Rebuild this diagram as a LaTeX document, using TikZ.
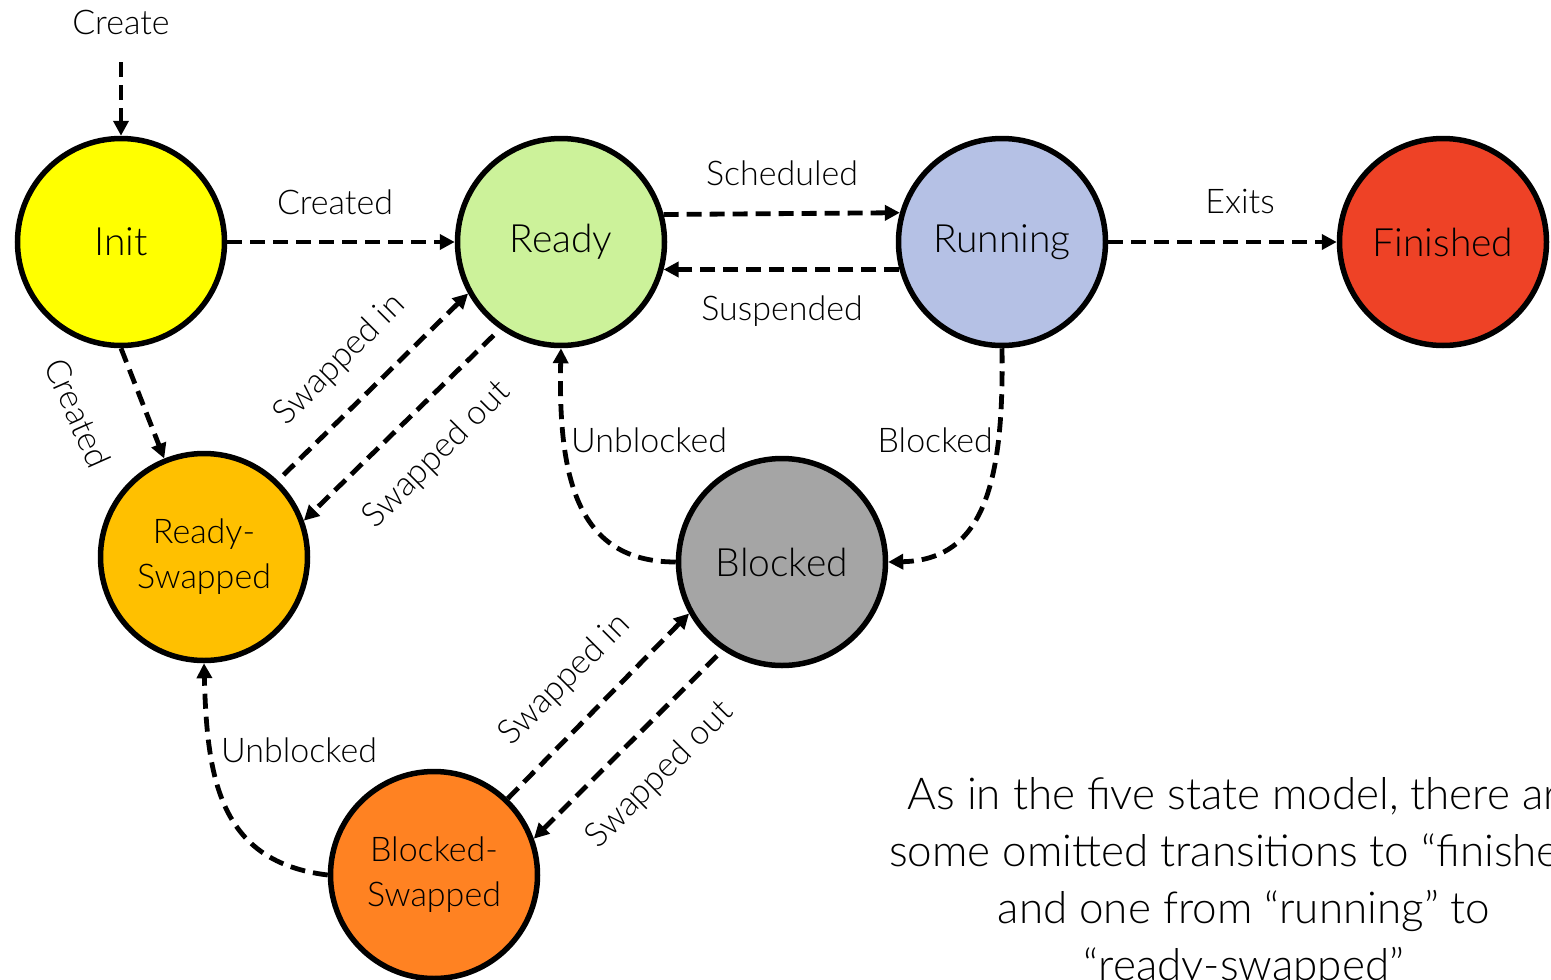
\documentclass[tikz,border=0pt]{standalone}
\usepackage{fontspec}
\setmainfont{Lato}[UprightFont={* Light}]
\usetikzlibrary{arrows.meta,calc}

\definecolor{cinit}{RGB}{255,255,0}
\definecolor{cready}{RGB}{204,242,154}
\definecolor{crun}{RGB}{181,193,229}
\definecolor{cfin}{RGB}{238,66,38}
\definecolor{crs}{RGB}{255,192,0}
\definecolor{cblk}{RGB}{165,165,165}
\definecolor{cbs}{RGB}{255,130,34}

\tikzset{
  state/.style={circle, draw=black, line width=5.5pt, minimum size=207pt,
    inner sep=0pt, align=center, font=\fontsize{39}{44}\selectfont},
  state2/.style={state, font=\fontsize{34}{45}\selectfont},
  trans/.style={-{Triangle[length=15pt,width=15pt]}, line width=4.8pt,
    dash pattern=on 15pt off 8pt},
  lbl/.style={font=\fontsize{34}{40}\selectfont, inner sep=0pt},
  note/.style={font=\fontsize{44}{57}\selectfont, align=center, inner sep=0pt}
}

\begin{document}
\begin{tikzpicture}[x=1pt, y=-1pt]
\useasboundingbox (0,0) rectangle (1551,980);

% states
\node[state, fill=cinit]  (init)  at (121,242)  {Init};
\node[state, fill=cready] (ready) at (561,242)  {Ready};
\node[state, fill=crun]   (run)   at (1002,242) {Running};
\node[state, fill=cfin]   (fin)   at (1443,242) {Finished};
\node[state2, fill=crs]   (rs)    at (204,557)  {Ready-\\Swapped};
\node[state, fill=cblk]   (blk)   at (782,562)  {Blocked};
\node[state2, fill=cbs]   (bs)    at (434,875)  {Blocked-\\Swapped};

% entry
\node[lbl] (create) at (121,22) {Create};
\coordinate (createtail) at (121,62);
\draw[trans] (createtail) -- (init.north);

% transitions
\draw[trans] (init.east) -- (ready.west);
\draw[trans] (ready.15.7) -- (run.164.3);
\draw[trans] (run.195.7) -- (ready.-15.7);
\draw[trans] (run.east) -- (fin.west);
\draw[trans] (init.south) -- (rs.112);
\draw[trans, shorten <=8pt] (rs.46) -- (ready.209.5);
\draw[trans, shorten <=9pt] (ready.235) -- (rs.20.3);
\draw[trans] (blk.west) .. controls (578,562) and (558,480) .. (ready.south);
\draw[trans] (run.south) .. controls (1004,480) and (985,560) .. (blk.east);
\draw[trans] (bs.46.9) -- (blk.209.6);
\draw[trans, shorten <=8pt] (blk.236.3) -- (bs.20);
\draw[trans] (bs.west) .. controls (220,862) and (207,780) .. (rs.south);

% labels
\node[lbl] (l1) at (335,202) {Created};
\node[lbl] (l2) at (782,173) {Scheduled};
\node[lbl] (l3) at (782,311) {Suspended};
\node[lbl] (l4) at (1240,202) {Exits};
\node[lbl, rotate=-66] (l5) at (78,413) {Created};
\node[lbl, rotate=45] (l6) at (340,360) {Swapped in};
\node[lbl, rotate=45] (l7) at (437,455) {Swapped out};
\node[lbl, anchor=west] (l8) at (571,440) {Unblocked};
\node[lbl, anchor=east] (l9) at (993,440) {Blocked};
\node[lbl, rotate=45] (l10) at (565,680) {Swapped in};
\node[lbl, rotate=45] (l11) at (660,775) {Swapped out};
\node[lbl, anchor=west] (l12) at (221,750) {Unblocked};

% note
\node[note, anchor=north] (remark) at (1244,777)
  {As in the five state model, there are\\some omitted transitions to ``finished''\\and one from ``running'' to\\``ready-swapped''};
\end{tikzpicture}
\end{document}
